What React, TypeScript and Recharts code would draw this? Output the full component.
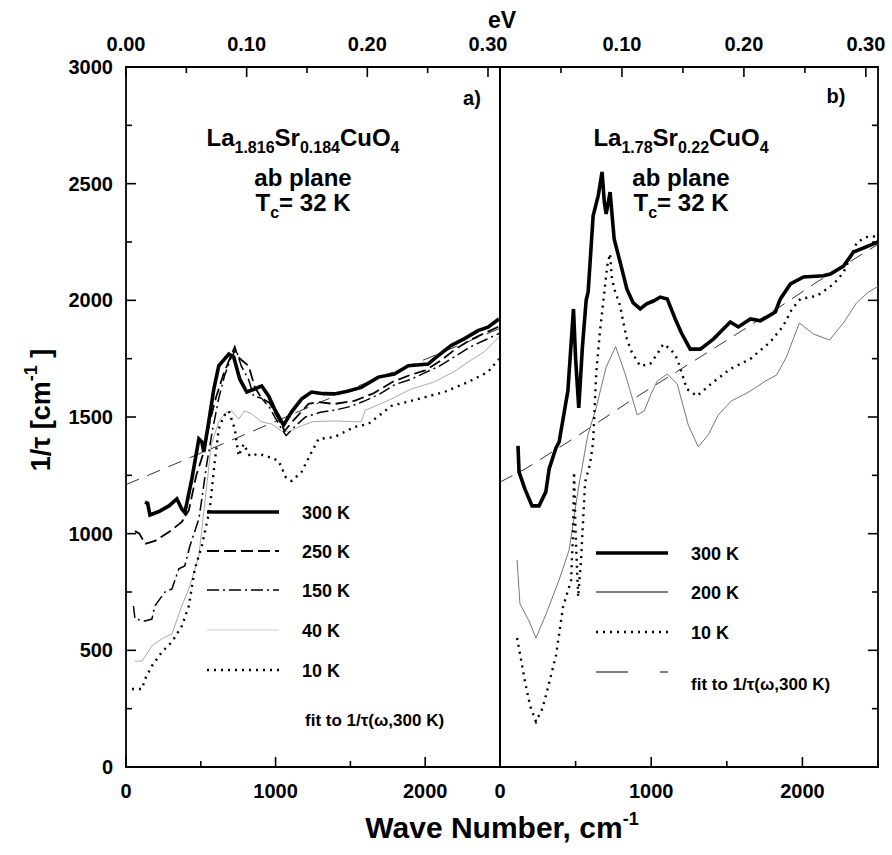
import { LineChart, Line, XAxis, YAxis, ReferenceArea, ReferenceLine } from 'recharts';

const FONT = '"Liberation Sans", Arial, Helvetica, sans-serif';
const CM_PER_EV = 8065.54;

// axes
const waveTicks = [0, 500, 1000, 1500, 2000, 2500];
const waveLabels = [0, 1000, 2000];
const evTicks = [0, 0.05, 0.1, 0.15, 0.2, 0.25, 0.3];
const evLabels = [0, 0.1, 0.2, 0.3];
const rateTicks = [0, 250, 500, 750, 1000, 1250, 1500, 1750, 2000, 2250, 2500, 2750, 3000];
const rateLabels = [0, 500, 1000, 1500, 2000, 2500, 3000];

// panel a) La1.816Sr0.184CuO4 : [wave number cm-1, 1/tau cm-1]
const a300K = [
  [127, 1135], [145, 1130], [160, 1080], [220, 1095], [287, 1119], [340, 1149], [373, 1106],
  [393, 1090], [440, 1234], [487, 1406], [507, 1393], [520, 1350], [553, 1479], [587, 1620],
  [620, 1719], [687, 1770], [720, 1757], [760, 1663], [807, 1607], [860, 1620], [907, 1633],
  [953, 1590], [993, 1534], [1053, 1465], [1107, 1522], [1173, 1577], [1240, 1607], [1320, 1600],
  [1393, 1599], [1480, 1610], [1573, 1627], [1687, 1671], [1793, 1684], [1887, 1720], [2020, 1727],
  [2060, 1749], [2173, 1806], [2260, 1835], [2353, 1870], [2420, 1885], [2493, 1920],
];
const a250K = [
  [60, 1011], [90, 1000], [127, 956], [193, 969], [287, 1007], [373, 1050], [420, 1100],
  [470, 1250], [520, 1350], [560, 1480], [600, 1580], [650, 1680], [700, 1760], [727, 1800],
  [745, 1760], [780, 1740], [820, 1719], [860, 1629], [907, 1580], [960, 1560], [1020, 1491],
  [1060, 1440], [1127, 1491], [1220, 1556], [1287, 1564], [1393, 1556], [1527, 1569], [1650, 1600],
  [1780, 1650], [1900, 1680], [2000, 1700], [2100, 1740], [2200, 1790], [2300, 1830], [2400, 1860],
  [2500, 1890],
];
const a150K = [
  [50, 690], [60, 634], [127, 626], [173, 634], [193, 690], [260, 750], [307, 763], [353, 849],
  [393, 862], [427, 947], [487, 1063], [507, 1149], [540, 1300], [580, 1450], [620, 1580],
  [660, 1680], [700, 1750], [735, 1790], [770, 1720], [820, 1660], [853, 1590], [907, 1580],
  [960, 1540], [1020, 1470], [1070, 1420], [1130, 1460], [1200, 1500], [1300, 1520], [1400, 1530],
  [1500, 1545], [1600, 1570], [1700, 1600], [1800, 1640], [1900, 1660], [2000, 1690], [2100, 1720],
  [2200, 1760], [2300, 1800], [2400, 1830], [2500, 1860],
];
const a40K = [
  [60, 454], [107, 454], [173, 519], [240, 549], [307, 570], [373, 690], [420, 763], [487, 904],
  [530, 1150], [570, 1380], [620, 1480], [667, 1520], [707, 1526], [753, 1491], [793, 1526],
  [840, 1513], [907, 1479], [973, 1470], [1040, 1440], [1087, 1436], [1173, 1462], [1250, 1480],
  [1393, 1483], [1573, 1479], [1600, 1530], [1620, 1534], [1773, 1577], [1907, 1620], [2060, 1650],
  [2200, 1697], [2287, 1736], [2393, 1779], [2493, 1843],
];
const a10K = [
  [40, 334], [107, 334], [127, 377], [173, 433], [240, 493], [307, 536], [373, 604], [420, 690],
  [460, 849], [507, 947], [560, 1106], [593, 1307], [620, 1449], [653, 1504], [687, 1526],
  [727, 1449], [753, 1333], [787, 1384], [827, 1333], [887, 1342], [953, 1329], [1020, 1312],
  [1070, 1240], [1107, 1226], [1173, 1264], [1227, 1333], [1287, 1406], [1393, 1414], [1527, 1457],
  [1620, 1470], [1773, 1547], [1953, 1577], [2127, 1607], [2287, 1650], [2420, 1693], [2493, 1749],
];
const aFit = [
  [0, 1210], [40, 1221], [373, 1311], [773, 1419], [1553, 1633], [1973, 1740], [2500, 1880],
];

// panel b) La1.78Sr0.22CuO4
const b300K = [
  [119, 1376], [126, 1264], [165, 1191], [212, 1119], [258, 1119], [303, 1179], [325, 1277],
  [370, 1367], [391, 1393], [449, 1612], [486, 1963], [500, 1750], [521, 1539], [545, 1800],
  [570, 2001], [583, 2036], [616, 2362], [650, 2450], [675, 2550], [690, 2420], [702, 2370],
  [728, 2464], [755, 2263], [800, 2150], [839, 2049], [880, 1990], [927, 1963], [970, 1985],
  [1015, 1997], [1060, 2014], [1106, 2006], [1159, 1920], [1200, 1860], [1258, 1791], [1325, 1791],
  [1411, 1834], [1523, 1907], [1576, 1886], [1656, 1920], [1722, 1912], [1821, 1950], [1854, 2006],
  [1921, 2070], [2007, 2100], [2139, 2105], [2185, 2113], [2272, 2147], [2338, 2207], [2470, 2242],
  [2500, 2250],
];
const b200K = [
  [113, 887], [132, 699], [192, 626], [238, 553], [305, 656], [391, 802], [457, 930], [520, 1200],
  [580, 1420], [636, 1539], [702, 1714], [765, 1802], [828, 1684], [861, 1612], [907, 1509],
  [954, 1526], [1000, 1600], [1040, 1654], [1106, 1684], [1172, 1642], [1245, 1466], [1311, 1372],
  [1377, 1423], [1444, 1509], [1530, 1569], [1623, 1599], [1689, 1625], [1755, 1654], [1830, 1680],
  [1894, 1757], [1980, 1903], [2073, 1856], [2179, 1830], [2272, 1903], [2358, 1989], [2430, 2032],
  [2500, 2060],
];
const b10K = [
  [113, 553], [166, 364], [200, 260], [238, 195], [280, 250], [305, 309], [371, 480], [417, 686],
  [470, 800], [483, 1000], [490, 1264], [500, 1000], [517, 729], [536, 887], [563, 1221],
  [596, 1300], [616, 1393], [636, 1684], [660, 1860], [682, 1989], [710, 2150], [728, 2200],
  [740, 2092], [762, 2036], [795, 1976], [815, 1907], [839, 1834], [871, 1779], [927, 1719],
  [993, 1727], [1040, 1770], [1080, 1813], [1130, 1790], [1172, 1750], [1236, 1620], [1303, 1590],
  [1411, 1650], [1523, 1706], [1656, 1749], [1788, 1822], [1873, 1890], [1931, 1963], [1987, 2006],
  [2097, 2019], [2207, 2070], [2273, 2121], [2362, 2250], [2430, 2272], [2500, 2275],
];
const bFit = [
  [0, 1221], [166, 1277], [523, 1423], [861, 1569], [1397, 1787], [1848, 1971], [2100, 2080],
  [2500, 2240],
];

type Style = { stroke: string; width: number; dash?: string };
const thick: Style = { stroke: '#000', width: 3.6 };
const longDash: Style = { stroke: '#000', width: 1.8, dash: '12 5' };
const dashDot: Style = { stroke: '#000', width: 1.5, dash: '12 4 2 4' };
const faint: Style = { stroke: '#aaa', width: 1 };
const thin: Style = { stroke: '#777', width: 1 };
const dotted: Style = { stroke: '#000', width: 2.4, dash: '2 5' };
const fit: Style = { stroke: '#333', width: 1, dash: '14 9' };

const panelA: [number[][], Style][] = [
  [aFit, fit], [a40K, faint], [a10K, dotted], [a150K, dashDot], [a250K, longDash], [a300K, thick],
];
const panelB: [number[][], Style][] = [
  [bFit, fit], [b200K, thin], [b10K, dotted], [b300K, thick],
];

const rows = (pts: number[][]) => pts.map(([w, v]) => ({ w, v }));

const txt = { fontFamily: FONT, fontWeight: 'bold' as const, fill: '#000' };

// inward tick lengths, in data units (about 10 px major, 6 px minor)
const TICK_W = [67, 40];
const TICK_R = [43, 26];

const BottomTick = ({ x, y, payload }: any) =>
  waveLabels.includes(payload.value) ? (
    <text x={x} y={y + 31} textAnchor="middle" fontSize={20} {...txt}>
      {payload.value}
    </text>
  ) : (
    <g />
  );

const makeTopTick = (skipZero: boolean) => ({ x, y, payload }: any) => {
  const ev = payload.value / CM_PER_EV;
  const major = evLabels.some((e) => Math.abs(e - ev) < 1e-6);
  if (!major || (skipZero && ev < 1e-6)) return <g />;
  return (
    <text x={x} y={y - 16} textAnchor="middle" fontSize={20} {...txt}>
      {ev.toFixed(2)}
    </text>
  );
};

const LeftTick = ({ x, y, payload }: any) =>
  rateLabels.includes(payload.value) ? (
    <text x={x - 13} y={y + 7} textAnchor="end" fontSize={20} {...txt}>
      {payload.value}
    </text>
  ) : (
    <g />
  );

const axisCommon = {
  axisLine: false,
  tickLine: false,
  tickSize: 0,
  tickMargin: 0,
  interval: 0 as const,
  allowDataOverflow: true,
};

const tickMarks = (right: boolean) => {
  const out: JSX.Element[] = [];
  waveTicks.forEach((w) => {
    const len = TICK_R[waveLabels.includes(w) ? 0 : 1];
    out.push(<ReferenceLine key={`b${w}`} segment={[{ x: w, y: 0 }, { x: w, y: len }]} stroke="#000" strokeWidth={1.6} />);
  });
  evTicks.forEach((e) => {
    const w = e * CM_PER_EV;
    const len = TICK_R[evLabels.includes(e) ? 0 : 1];
    out.push(<ReferenceLine key={`t${e}`} segment={[{ x: w, y: 3000 }, { x: w, y: 3000 - len }]} stroke="#000" strokeWidth={1.6} />);
  });
  rateTicks.forEach((r) => {
    const len = TICK_W[rateLabels.includes(r) ? 0 : 1];
    const seg = right ? [{ x: 2500, y: r }, { x: 2500 - len, y: r }] : [{ x: 0, y: r }, { x: len, y: r }];
    out.push(<ReferenceLine key={`y${r}`} segment={seg} stroke="#000" strokeWidth={1.6} />);
  });
  return out;
};

const Panel = ({ series, right }: { series: [number[][], Style][]; right: boolean }) => (
  <LineChart
    width={right ? 412 : 520}
    height={855}
    margin={right ? { top: 37, right: 14, bottom: 58, left: 20 } : { top: 37, right: 20, bottom: 58, left: 66 }}
  >
    <XAxis dataKey="w" type="number" domain={[0, 2500]} ticks={waveTicks} height={30} {...axisCommon} tick={BottomTick} />
    <XAxis
      xAxisId="top"
      orientation="top"
      dataKey="w"
      type="number"
      domain={[0, 2500]}
      ticks={evTicks.map((e) => e * CM_PER_EV)}
      height={30}
      {...axisCommon}
      tick={makeTopTick(right)}
    />
    <YAxis
      orientation={right ? 'right' : 'left'}
      type="number"
      domain={[0, 3000]}
      ticks={rateTicks}
      width={right ? 0 : 60}
      {...axisCommon}
      tick={right ? () => <g /> : LeftTick}
    />
    {series.map(([pts, s], i) => (
      <Line
        key={i}
        data={rows(pts)}
        dataKey="v"
        type="linear"
        dot={false}
        activeDot={false}
        stroke={s.stroke}
        strokeWidth={s.width}
        strokeDasharray={s.dash}
        isAnimationActive={false}
      />
    ))}
    {tickMarks(right)}
    <ReferenceArea x1={0} x2={2500} y1={0} y2={3000} fill="none" stroke="#000" strokeWidth={1.8} />
  </LineChart>
);

const LegendRow = ({ x, y, s, label }: { x: number; y: number; s: Style; label: string }) => (
  <g>
    <line x1={x} x2={x + 72} y1={y} y2={y} stroke={s.stroke} strokeWidth={s.width} strokeDasharray={s.dash} />
    <text x={x + 95} y={y + 7} fontSize={18} {...txt}>
      {label}
    </text>
  </g>
);

const Title = ({ cx, a, b }: { cx: number; a: string; b: string }) => (
  <g>
    <text x={cx} y={146} textAnchor="middle" fontSize={24} {...txt}>
      La<tspan fontSize={16} dy={7}>{a}</tspan>
      <tspan dy={-7}>Sr</tspan>
      <tspan fontSize={16} dy={7}>{b}</tspan>
      <tspan dy={-7}>CuO</tspan>
      <tspan fontSize={16} dy={7}>4</tspan>
    </text>
    <text x={cx} y={186} textAnchor="middle" fontSize={24} {...txt}>
      ab plane
    </text>
    <text x={cx} y={211} textAnchor="middle" fontSize={24} {...txt}>
      T<tspan fontSize={16} dy={7}>c</tspan>
      <tspan dy={-7}>= 32 K</tspan>
    </text>
  </g>
);

export default function App() {
  return (
    <div style={{ position: 'absolute', left: 0, top: 0, width: 892, height: 855, background: '#fff' }}>
      <div style={{ position: 'absolute', left: 0, top: 0 }}>
        <Panel series={panelA} right={false} />
      </div>
      <div style={{ position: 'absolute', left: 480, top: 0 }}>
        <Panel series={panelB} right />
      </div>
      <svg width={892} height={855} style={{ position: 'absolute', left: 0, top: 0, pointerEvents: 'none' }}>
        <text x={502} y={28} textAnchor="middle" fontSize={23} {...txt}>
          eV
        </text>
        <text x={472} y={105} textAnchor="middle" fontSize={20} {...txt}>
          a)
        </text>
        <text x={836} y={103} textAnchor="middle" fontSize={20} {...txt}>
          b)
        </text>
        <Title cx={303} a="1.816" b="0.184" />
        <Title cx={681} a="1.78" b="0.22" />

        <LegendRow x={207} y={512} s={thick} label="300 K" />
        <LegendRow x={207} y={551} s={longDash} label="250 K" />
        <LegendRow x={207} y={590} s={dashDot} label="150 K" />
        <LegendRow x={207} y={630} s={{ stroke: '#ccc', width: 1 }} label="40 K" />
        <LegendRow x={207} y={670} s={dotted} label="10 K" />
        <text x={305} y={726} fontSize={17} {...txt}>
          fit to 1/τ(ω,300 K)
        </text>

        <LegendRow x={596} y={553} s={thick} label="300 K" />
        <LegendRow x={596} y={592} s={{ stroke: '#000', width: 1.2 }} label="200 K" />
        <LegendRow x={596} y={632} s={dotted} label="10 K" />
        <line x1={596} x2={668} y1={672} y2={672} stroke="#000" strokeWidth={1.2} strokeDasharray="32 32 8" />
        <text x={691} y={690} fontSize={17} {...txt}>
          fit to 1/τ(ω,300 K)
        </text>

        <text x={502} y={838} textAnchor="middle" fontSize={30} {...txt}>
          Wave Number, cm<tspan fontSize={18} dy={-13}>-1</tspan>
        </text>
        <text transform="translate(50 410) rotate(-90)" textAnchor="middle" fontSize={27} {...txt}>
          1/τ [cm<tspan fontSize={18} dy={-13}>-1</tspan>
          <tspan dy={13}> ]</tspan>
        </text>
      </svg>
    </div>
  );
}
